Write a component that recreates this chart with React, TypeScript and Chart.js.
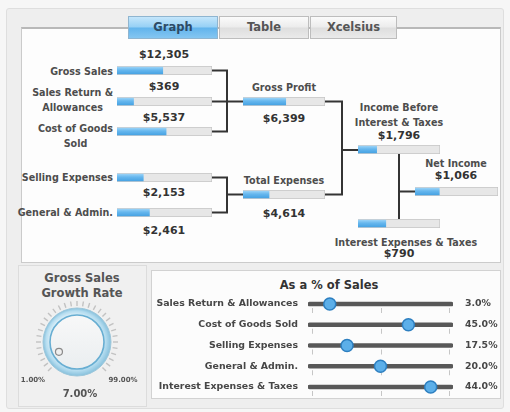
import React, { useEffect, useRef } from "react";
import { Chart, registerables } from "chart.js";
Chart.register(...registerables);

const FONT = '"DejaVu Sans", Verdana, sans-serif';

// ---------- DATA ----------
const nodeNames = [
  "Gross Sales",
  "Sales Return &\nAllowances",
  "Cost of Goods\nSold",
  "Selling Expenses",
  "General & Admin.",
  "Gross Profit",
  "Total Expenses",
  "Income Before\nInterest & Taxes",
  "Net Income",
  "Interest Expenses & Taxes",
];
const nodeValues = [12305, 369, 5537, 2153, 2461, 6399, 4614, 1796, 1066, 790];
const nodeScaleMax = [25000, 2000, 10500, 7500, 7000, 12000, 14000, 7500, 3500, 2250];

const sliderLabels = [
  "Sales Return & Allowances",
  "Cost of Goods Sold",
  "Selling Expenses",
  "General & Admin.",
  "Interest Expenses & Taxes",
];
const sliderValues = [3.0, 45.0, 17.5, 20.0, 44.0];
const sliderScaleMax = [20, 65, 65, 40, 52];
const sliderValueLabels = ["3.0%", "45.0%", "17.5%", "20.0%", "44.0%"];

const growthMin = 1;
const growthMax = 99;
const growthValue = 7;
const growthMinLabel = "1.00%";
const growthMaxLabel = "99.00%";
const growthValueLabel = "7.00%";

const tabNames = ["Graph", "Table", "Xcelsius"];

// ---------- LAYOUT ----------
const barBoxes: [number, number, number][] = [
  [117, 66, 95], [117, 97, 95], [117, 127, 95], [117, 173, 95], [117, 208, 95],
  [243, 97, 82], [243, 190, 82], [358, 145, 82], [415, 187, 83], [358, 219, 82],
];
const BAR_H = 9;
const labelSpots: [number, number, "r" | "c"][] = [
  [113, 71, "r"], [113, 99.5, "r"], [113, 135.5, "r"], [113, 177, "r"], [113, 212, "r"],
  [284, 87, "c"], [284, 180, "c"], [399, 115, "c"], [456, 163, "c"], [406, 242, "c"],
];
const valueSpots: [number, number][] = [
  [164, 54], [164, 86], [164, 117], [164, 192], [164, 230],
  [284, 118], [284, 213], [399, 135], [456, 175], [399, 253],
];
const connectorPaths = [
  "M212,70.5 H227 V131.5 H212",
  "M212,101.5 H243",
  "M212,177.5 H227 V212.5 H212",
  "M227,194.5 H243",
  "M325,101.5 H342 V194.5 H325",
  "M342,150 H358",
  "M399,154 V219",
  "M399,191.5 H415",
];

function Txt(props: {
  x: number; y: number; anchor?: "r" | "c" | "l"; size?: number; color?: string;
  weight?: string | number; lh?: number; children: any;
}) {
  const { x, y, anchor = "c", size = 9.6, color = "#4d4d4d", weight = "bold", lh = 15 } = props;
  const style: any = {
    position: "absolute", top: y, whiteSpace: "pre", textAlign: "center",
    fontFamily: FONT, fontSize: size, fontWeight: weight, color, lineHeight: lh + "px",
  };
  if (anchor === "r") { style.right = 510 - x; style.transform = "translateY(-50%)"; }
  else if (anchor === "l") { style.left = x; style.transform = "translateY(-50%)"; }
  else { style.left = x; style.transform = "translate(-50%,-50%)"; }
  return <div style={style}>{props.children}</div>;
}

function MiniBar({ value, max, left, top, width }: any) {
  const ref = useRef<HTMLCanvasElement>(null);
  useEffect(() => {
    const chart = new Chart(ref.current!, {
      type: "bar",
      data: {
        labels: [""],
        datasets: [
          {
            data: [value], order: 0, grouped: false, barPercentage: 1, categoryPercentage: 1,
            borderWidth: 1, borderColor: "rgba(0,0,0,0)",
            backgroundColor: (ctx: any) => {
              const a = ctx.chart.chartArea;
              if (!a) return "#5aaee8";
              const g = ctx.chart.ctx.createLinearGradient(0, a.top, 0, a.bottom);
              g.addColorStop(0, "#a9dbfa");
              g.addColorStop(0.45, "#66b7ee");
              g.addColorStop(1, "#3f9de0");
              return g;
            },
          } as any,
          {
            data: [max], order: 1, grouped: false, barPercentage: 1, categoryPercentage: 1,
            backgroundColor: "#e7e7e7", borderColor: "#c6c6c6", borderWidth: 1,
          } as any,
        ],
      },
      options: {
        indexAxis: "y", responsive: false, maintainAspectRatio: false, animation: false,
        layout: { padding: 0 },
        plugins: { legend: { display: false }, tooltip: { enabled: false } },
        scales: { x: { display: false, min: 0, max }, y: { display: false } },
      },
    });
    return () => chart.destroy();
  }, []);
  return (
    <canvas ref={ref} width={width} height={BAR_H}
      style={{ position: "absolute", left, top, width, height: BAR_H }} />
  );
}

const knobPlugin = {
  id: "knob",
  afterDatasetsDraw(chart: any) {
    const meta = chart.getDatasetMeta(0);
    const a0 = meta.data[0] as any;
    const a1 = meta.data[1] as any;
    const x = a0.x, y = a0.y, outer = a0.outerRadius;
    const start = a0.startAngle, end = a1.endAngle, val = a0.endAngle;
    const ctx = chart.ctx;
    ctx.save();
    ctx.strokeStyle = "#c2c2c2";
    ctx.lineWidth = 1.4;
    const n = 30;
    for (let i = 0; i <= n; i++) {
      const t = start + ((end - start) * i) / n;
      ctx.beginPath();
      ctx.moveTo(x + Math.cos(t) * (outer - 5), y + Math.sin(t) * (outer - 5));
      ctx.lineTo(x + Math.cos(t) * outer, y + Math.sin(t) * outer);
      ctx.stroke();
    }
    const R = outer - 7;
    let g = ctx.createRadialGradient(x - 4, y - 4, R * 0.6, x, y, R);
    g.addColorStop(0, "#eef8fc");
    g.addColorStop(0.7, "#b4dcef");
    g.addColorStop(1, "#86c0dc");
    ctx.beginPath();
    ctx.arc(x, y, R, 0, Math.PI * 2);
    ctx.fillStyle = g;
    ctx.fill();
    ctx.strokeStyle = "#9cc6da";
    ctx.lineWidth = 1;
    ctx.stroke();
    const r = R - 7;
    g = ctx.createLinearGradient(x, y - r, x, y + r);
    g.addColorStop(0, "#f8f8f8");
    g.addColorStop(1, "#eaeef0");
    ctx.beginPath();
    ctx.arc(x, y, r, 0, Math.PI * 2);
    ctx.fillStyle = g;
    ctx.fill();
    ctx.strokeStyle = "#68aed2";
    ctx.lineWidth = 1.6;
    ctx.stroke();
    const ir = r * 0.76;
    ctx.beginPath();
    ctx.arc(x + Math.cos(val) * ir, y + Math.sin(val) * ir, 3.5, 0, Math.PI * 2);
    ctx.fillStyle = "#efefef";
    ctx.fill();
    ctx.strokeStyle = "#8a8a8a";
    ctx.lineWidth = 1.2;
    ctx.stroke();
    ctx.restore();
  },
};

function Knob() {
  const ref = useRef<HTMLCanvasElement>(null);
  useEffect(() => {
    const chart = new Chart(ref.current!, {
      type: "doughnut",
      data: {
        datasets: [{
          data: [growthValue - growthMin, growthMax - growthValue],
          backgroundColor: ["rgba(0,0,0,0)", "rgba(0,0,0,0)"],
          borderWidth: 0,
        }],
      },
      options: {
        responsive: false, maintainAspectRatio: false, animation: false,
        circumference: 270, rotation: -135, cutout: "85%", radius: 41,
        layout: { padding: 0 },
        plugins: { legend: { display: false }, tooltip: { enabled: false } },
      } as any,
      plugins: [knobPlugin],
    });
    return () => chart.destroy();
  }, []);
  return <canvas ref={ref} width={100} height={100}
    style={{ position: "absolute", left: 27, top: 286, width: 100, height: 100 }} />;
}

const sliderTickPlugin = {
  id: "sliderTicks",
  beforeDatasetsDraw(chart: any) {
    const xs = chart.scales.x, ys = chart.scales.y, ctx = chart.ctx;
    ctx.save();
    ctx.strokeStyle = "#c6c6c6";
    ctx.lineWidth = 1;
    sliderLabels.forEach((_, i) => {
      const yy = ys.getPixelForValue(i);
      [3, 50, 97].forEach((v) => {
        const px = Math.round(xs.getPixelForValue(v)) + 0.5;
        ctx.beginPath();
        ctx.moveTo(px, yy + 4);
        ctx.lineTo(px, yy + 9);
        ctx.stroke();
      });
    });
    ctx.restore();
  },
};

function Sliders() {
  const ref = useRef<HTMLCanvasElement>(null);
  useEffect(() => {
    const tickFont = { family: FONT, size: 9.4, weight: "bold" as const };
    const chart = new Chart(ref.current!, {
      type: "bar",
      data: {
        labels: sliderLabels,
        datasets: [
          {
            type: "scatter",
            data: sliderValues.map((v, i) => ({ x: (v / sliderScaleMax[i]) * 100, y: sliderLabels[i] })),
            pointRadius: 6, pointBackgroundColor: "#5cafe9", pointBorderColor: "#2d7fc0",
            pointBorderWidth: 1.5, order: 0, clip: false,
          } as any,
          {
            type: "bar",
            data: sliderLabels.map(() => 100),
            backgroundColor: "#585858", barThickness: 4, borderRadius: 2, borderSkipped: false,
            order: 2,
          } as any,
        ],
      },
      options: {
        indexAxis: "y", responsive: false, maintainAspectRatio: false, animation: false,
        layout: { padding: 0 },
        plugins: { legend: { display: false }, tooltip: { enabled: false } },
        scales: {
          x: { display: false, min: 0, max: 100 },
          y: {
            position: "left", grid: { display: false, drawTicks: false }, border: { display: false },
            ticks: { color: "#474747", font: tickFont, padding: 10, autoSkip: false },
            afterFit: (s: any) => { s.width = 157; },
          },
          y2: {
            type: "category", labels: sliderValueLabels, position: "right", offset: true,
            grid: { display: false, drawTicks: false }, border: { display: false },
            ticks: { color: "#474747", font: tickFont, padding: 12, autoSkip: false },
            afterFit: (s: any) => { s.width = 47; },
          },
        },
      } as any,
      plugins: [sliderTickPlugin],
    });
    return () => chart.destroy();
  }, []);
  return <canvas ref={ref} width={349} height={139}
    style={{ position: "absolute", left: 151, top: 276, width: 349, height: 139 }} />;
}

const tabBoxes: [number, number][] = [[128, 90], [219, 90], [310, 87]];

export default function App() {
  return (
    <div style={{ position: "absolute", left: 0, top: 0, width: 510, height: 412, background: "#f6f6f6", overflow: "hidden", fontFamily: FONT }}>
      <div style={{ position: "absolute", left: 6, top: 8, width: 496, height: 399, background: "#eeeeee", border: "1px solid #dedede", borderRadius: 3 }} />
      <div style={{ position: "absolute", left: 21, top: 27, width: 478, height: 233, background: "#fdfdfd", border: "1px solid #cbcbcb", borderTop: "2px solid #b8b8b8" }} />
      {tabNames.map((t, i) => (
        <div key={t} style={{
          position: "absolute", left: tabBoxes[i][0], top: 16, width: tabBoxes[i][1], height: 23,
          boxSizing: "border-box", border: i === 0 ? "1px solid #8fb5d0" : "1px solid #bdbdbd",
          background: i === 0
            ? "linear-gradient(#c4e6fb, #96d0f5 48%, #62b4ec 52%, #84c6f1)"
            : "linear-gradient(#fbfbfb, #ececec 48%, #dedede 52%, #eaeaea)",
          textAlign: "center", lineHeight: "21px", fontSize: 11.5, fontWeight: "bold",
          color: i === 0 ? "#2d4b66" : "#555",
        }}>{t}</div>
      ))}
      <svg width={510} height={412} style={{ position: "absolute", left: 0, top: 0 }}>
        {connectorPaths.map((d, i) => (
          <path key={i} d={d} fill="none" stroke="#343434" strokeWidth={2} />
        ))}
      </svg>
      {nodeValues.map((v, i) => (
        <MiniBar key={i} value={v} max={nodeScaleMax[i]} left={barBoxes[i][0]} top={barBoxes[i][1]} width={barBoxes[i][2]} />
      ))}
      {nodeNames.map((n, i) => (
        <Txt key={"l" + i} x={labelSpots[i][0]} y={labelSpots[i][1]} anchor={labelSpots[i][2]}>{n}</Txt>
      ))}
      {nodeValues.map((v, i) => (
        <Txt key={"v" + i} x={valueSpots[i][0]} y={valueSpots[i][1]} size={11} color="#333">{"$" + v.toLocaleString("en-US")}</Txt>
      ))}

      <div style={{ position: "absolute", left: 18, top: 265, width: 127, height: 140, border: "1px solid #dcdcdc", background: "#f0f0f0" }} />
      <div style={{ position: "absolute", left: 151, top: 270, width: 348, height: 127, border: "1px solid #d2d2d2", background: "#fcfcfc" }} />

      <Txt x={82} y={285.5} size={11.5} color="#555" lh={15}>{"Gross Sales\nGrowth Rate"}</Txt>
      <Knob />
      <Txt x={33} y={380} size={7} color="#555">{growthMinLabel}</Txt>
      <Txt x={123} y={380} size={7} color="#555">{growthMaxLabel}</Txt>
      <Txt x={80} y={393} size={10} color="#555">{growthValueLabel}</Txt>

      <Txt x={329} y={285} size={11.5} color="#333">As a % of Sales</Txt>
      <Sliders />
    </div>
  );
}
